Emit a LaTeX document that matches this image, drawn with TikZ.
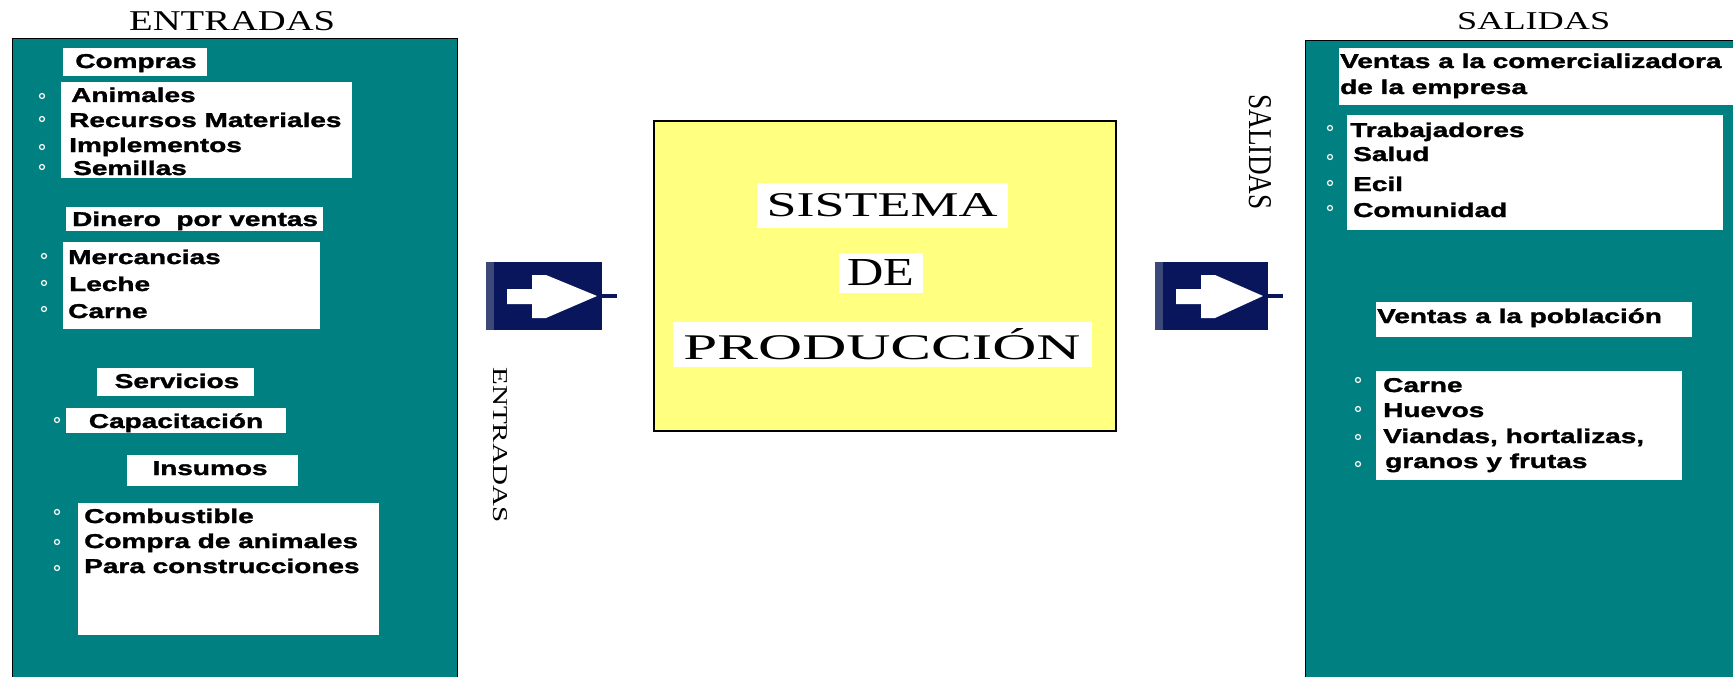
\documentclass[tikz,border=0pt]{standalone}
\usepackage{fontspec}
\usepackage{graphicx}
\setmainfont{Liberation Serif}
\newfontfamily\boxfont{Liberation Sans}[FakeStretch=1.4, BoldFeatures={FakeBold=1.6}]
\usetikzlibrary{positioning}
\definecolor{panel}{RGB}{0,128,128}
\definecolor{sysyellow}{RGB}{255,255,128}
\definecolor{iconblue}{RGB}{10,22,92}
\definecolor{iconedge}{RGB}{60,72,120}

\begin{document}
\begin{tikzpicture}
    [
        x=1pt, y=-1pt,
        panelbox/.style={draw=black, line width=1.2pt, fill=panel, anchor=north west, inner sep=0pt},
        wbox/.style={fill=white, anchor=north west, inner sep=0pt},
        item/.style={font=\boxfont\bfseries\fontsize{20}{24}\selectfont, anchor=base west, inner sep=0pt},
        head/.style={item, anchor=base},
        bigword/.style={fill=white, inner sep=0pt}
    ]
    \tikzstyle{dot} = [circle, draw=white, line width=1.2pt, minimum size=5pt, inner sep=0pt]
    \tikzstyle{iconbox} = [fill=iconblue, anchor=north west, inner sep=0pt, minimum width=116pt, minimum height=68pt]

    \useasboundingbox (0,0) rectangle (1733,677);

    % Entradas
    \begin{scope}
        \node[anchor=base west, inner sep=0pt] (entTitle) at (129,31) {\resizebox{206pt}{19pt}{ENTRADAS}};
        \node[panelbox, minimum width=445pt, minimum height=660pt] (entPanel) at (12,38) {};

        \node[wbox, minimum width=144pt, minimum height=28pt] (comprasBox) at (63,48) {};
        \node[wbox, minimum width=291pt, minimum height=96pt] (comprasList) at (61,82) {};
        \node[wbox, minimum width=257pt, minimum height=24pt] (dineroBox) at (66,207) {};
        \node[wbox, minimum width=257pt, minimum height=87pt] (dineroList) at (63,242) {};
        \node[wbox, minimum width=157pt, minimum height=28pt] (serviciosBox) at (97,368) {};
        \node[wbox, minimum width=220pt, minimum height=25pt] (capacBox) at (66,408) {};
        \node[wbox, minimum width=171pt, minimum height=31pt] (insumosBox) at (127,455) {};
        \node[wbox, minimum width=301pt, minimum height=132pt] (insumosList) at (78,503) {};

        \node[head] (compras) at (136,68) {Compras};
        \node[item] (animales) at (71,102) {Animales};
        \node[item] (recursos) at (69,127) {Recursos Materiales};
        \node[item] (implementos) at (69,152) {Implementos};
        \node[item] (semillas) at (73,175) {Semillas};
        \node[item] (dinero) at (72,226) {Dinero\ \ por ventas};
        \node[item] (mercancias) at (68,264) {Mercancias};
        \node[item] (leche) at (69,291) {Leche};
        \node[item] (carneIn) at (68,318) {Carne};
        \node[head] (servicios) at (177,388) {Servicios};
        \node[head] (capacitacion) at (176,428) {Capacitación};
        \node[head] (insumos) at (210,475) {Insumos};
        \node[item] (combustible) at (84,523) {Combustible};
        \node[item] (compraAnim) at (84,548) {Compra de animales};
        \node[item] (construc) at (84,573) {Para construcciones};

        \node[dot] (d1) at (42,96) {};   \node[dot] (d2) at (42,119) {};
        \node[dot] (d3) at (42,147) {};  \node[dot] (d4) at (42,167) {};
        \node[dot] (d5) at (44,256) {};  \node[dot] (d6) at (44,283) {};
        \node[dot] (d7) at (44,309) {};  \node[dot] (d8) at (57,420) {};
        \node[dot] (d9) at (57,512) {};  \node[dot] (d10) at (57,542) {};
        \node[dot] (d11) at (57,568) {};
    \end{scope}

    % Flecha de entrada
    \begin{scope}[shift={(486,262)}]
        \node[iconbox] (inIcon) at (0,0) {};
        \fill[iconedge] (inIcon.north west) rectangle ++(8,68);
        \fill[white] (21,27) -- (46,27) -- (46,13) -- (60,13) -- (111,34)
            -- (60,56) -- (46,56) -- (46,42) -- (21,42) -- cycle;
        \draw[iconblue, line width=4pt] (inIcon.east) ++(-5,0) -- ++(20,0);
    \end{scope}
    \node[rotate=-90, inner sep=0pt] (entSide) at (500,445) {\resizebox{155pt}{14pt}{ENTRADAS}};

    % Sistema
    \node[draw=black, line width=1.5pt, fill=sysyellow, anchor=north west, inner sep=0pt,
          minimum width=462pt, minimum height=310pt] (sistema) at (653,120) {};
    \node[bigword, minimum width=251pt, minimum height=45pt] (sisWord) at (882,205) {\resizebox{231pt}{23pt}{SISTEMA}};
    \node[bigword, minimum width=84pt, minimum height=40pt] (deWord) at (881,273) {\resizebox{67pt}{26pt}{DE}};
    \node[bigword, minimum width=419pt, minimum height=45pt] (prodWord) at (882,344) {\resizebox{397pt}{31pt}{PRODUCCIÓN}};

    % Flecha de salida
    \begin{scope}[shift={(1155,262)}]
        \node[iconbox, minimum width=113pt] (outIcon) at (0,0) {};
        \fill[iconedge] (outIcon.north west) rectangle ++(8,68);
        \fill[white] (21,27) -- (46,27) -- (46,13) -- (60,13) -- (108,34)
            -- (60,56) -- (46,56) -- (46,42) -- (21,42) -- cycle;
        \draw[iconblue, line width=4pt] (outIcon.east) ++(-5,0) -- ++(20,0);
    \end{scope}
    \node[rotate=-90, inner sep=0pt] (salSide) at (1260,152) {\resizebox{115pt}{22pt}{SALIDAS}};

    % Salidas
    \begin{scope}
        \node[anchor=base west, inner sep=0pt] (salTitle) at (1457,30) {\resizebox{153pt}{17pt}{SALIDAS}};
        \node[panelbox, minimum width=460pt, minimum height=660pt] (salPanel) at (1305,40) {};

        \node[wbox, minimum width=420pt, minimum height=57pt] (empBox) at (1339,48) {};
        \node[wbox, minimum width=376pt, minimum height=115pt] (empList) at (1347,115) {};
        \node[wbox, minimum width=316pt, minimum height=35pt] (pobBox) at (1376,302) {};
        \node[wbox, minimum width=306pt, minimum height=109pt] (pobList) at (1376,371) {};

        \node[item] (ventasEmp) at (1340,68) {Ventas a la comercializadora};
        \node[item] (empresa) at (1340,94) {de la empresa};
        \node[item] (trabaj) at (1350,137) {Trabajadores};
        \node[item] (salud) at (1353,161) {Salud};
        \node[item] (ecil) at (1353,191) {Ecil};
        \node[item] (comunidad) at (1353,217) {Comunidad};
        \node[item] (ventasPob) at (1377,323) {Ventas a la población};
        \node[item] (carneOut) at (1383,392) {Carne};
        \node[item] (huevos) at (1383,417) {Huevos};
        \node[item] (viandas) at (1383,443) {Viandas, hortalizas,};
        \node[item] (granos) at (1385,468) {granos y frutas};

        \node[dot] (s1) at (1330,128) {};  \node[dot] (s2) at (1330,157) {};
        \node[dot] (s3) at (1330,183) {};  \node[dot] (s4) at (1330,208) {};
        \node[dot] (s5) at (1358,380) {};  \node[dot] (s6) at (1358,409) {};
        \node[dot] (s7) at (1358,437) {};  \node[dot] (s8) at (1358,464) {};
    \end{scope}

\end{tikzpicture}
\end{document}
